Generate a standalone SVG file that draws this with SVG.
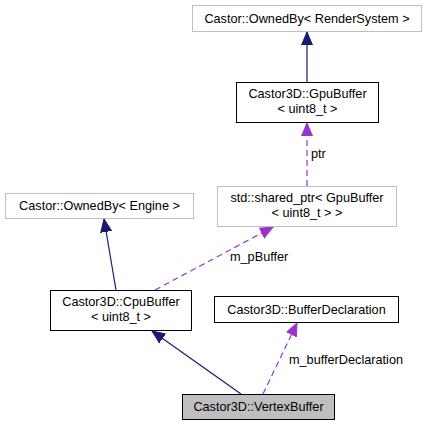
<svg xmlns="http://www.w3.org/2000/svg" width="430" height="425" viewBox="0 0 430 425">
<style>
  text { font-family: "Liberation Sans", Arial, sans-serif; font-size: 12.7px; fill: #000; text-anchor: middle; }
  .lbl { text-anchor: start; }
  .ext { fill: #fff; stroke: #bfbfbf; stroke-width: 1; }
  .doc { fill: #fff; stroke: #000; stroke-width: 1; }
  .cur { fill: #bfbfbf; stroke: #000; stroke-width: 1; }
  .inh { fill: none; stroke: #191970; stroke-width: 1.2; }
  .use { fill: none; stroke: #9a32cd; stroke-width: 1.2; stroke-dasharray: 6,4; }
</style>
<defs>
  <marker id="ab" markerUnits="userSpaceOnUse" markerWidth="15" markerHeight="13" refX="13" refY="6" orient="auto">
    <path d="M0,0.5 L13,6 L0,11.5 z" fill="#191970" stroke="#191970" stroke-width="1" stroke-dasharray="none"/>
  </marker>
  <marker id="ap" markerUnits="userSpaceOnUse" markerWidth="15" markerHeight="13" refX="13" refY="6" orient="auto">
    <path d="M0,0.5 L13,6 L0,11.5 z" fill="#9a32cd" stroke="#9a32cd" stroke-width="1" stroke-dasharray="none"/>
  </marker>
</defs>
<rect width="430" height="425" fill="#fff"/>
<g id="connectors">
  <path class="inh" d="M307,82 L307,32" marker-end="url(#ab)"/>
  <path class="use" d="M307,186 L307,123" marker-end="url(#ap)"/>
  <text class="lbl" x="311" y="158">ptr</text>
  <path class="inh" d="M116,290 L104,219" marker-end="url(#ab)"/>
  <path class="use" d="M155,290 L273,227" marker-end="url(#ap)"/>
  <text class="lbl" x="230" y="261">m_pBuffer</text>
  <path class="inh" d="M241,394 L152,331" marker-end="url(#ab)"/>
  <path class="use" d="M263,394 L297,323" marker-end="url(#ap)"/>
  <text class="lbl" x="289" y="364">m_bufferDeclaration</text>
</g>
<g id="ownedby_rendersystem">
  <rect class="ext" x="192.5" y="5.5" width="229" height="26"/>
  <text x="307" y="23">Castor::OwnedBy&lt; RenderSystem &gt;</text>
</g>
<g id="gpubuffer">
  <rect class="doc" x="236.5" y="82.5" width="142" height="40"/>
  <text x="307.5" y="98">Castor3D::GpuBuffer</text>
  <text x="307.5" y="113">&lt; uint8_t &gt;</text>
</g>
<g id="shared_ptr">
  <rect class="ext" x="217.5" y="186.5" width="179" height="40"/>
  <text x="307" y="202">std::shared_ptr&lt; GpuBuffer</text>
  <text x="307" y="217">&lt; uint8_t &gt; &gt;</text>
</g>
<g id="ownedby_engine">
  <rect class="ext" x="5.5" y="193.5" width="188" height="25"/>
  <text x="99.5" y="210">Castor::OwnedBy&lt; Engine &gt;</text>
</g>
<g id="cpubuffer">
  <rect class="doc" x="50.5" y="290.5" width="141" height="40"/>
  <text x="121" y="306">Castor3D::CpuBuffer</text>
  <text x="121" y="321">&lt; uint8_t &gt;</text>
</g>
<g id="bufferdeclaration">
  <rect class="doc" x="214.5" y="296.5" width="184" height="26"/>
  <text x="306.5" y="314">Castor3D::BufferDeclaration</text>
</g>
<g id="vertexbuffer">
  <rect class="cur" x="182.5" y="394.5" width="152" height="25"/>
  <text x="258.5" y="411">Castor3D::VertexBuffer</text>
</g>
</svg>
